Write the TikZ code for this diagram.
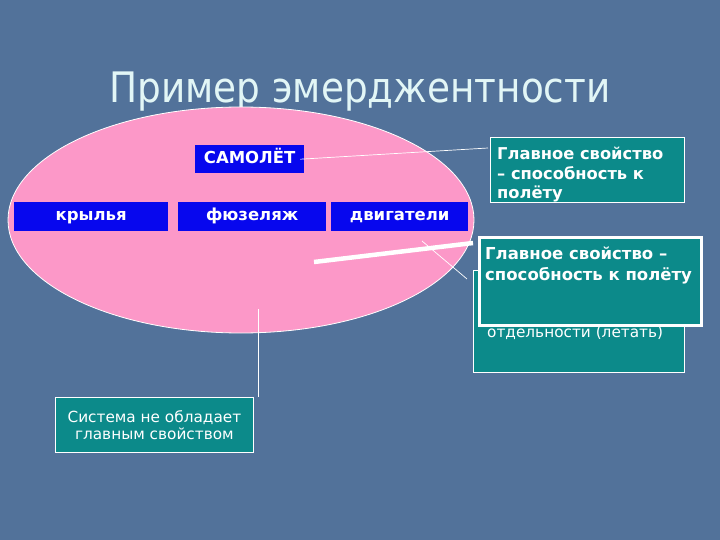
\documentclass[tikz,border=0pt]{standalone}
\usepackage{fontspec}
\setmainfont{DejaVu Sans}
\usetikzlibrary{shapes.geometric}
\definecolor{bg}{HTML}{52729A}
\definecolor{titlecol}{HTML}{E2F6F6}
\definecolor{pinkfill}{HTML}{FC98C8}
\definecolor{blueb}{HTML}{0707EE}
\definecolor{tealb}{HTML}{0C8A8A}
\tikzset{
  bluebox/.style={fill=blueb, text=white, font=\bfseries\fontsize{16.5}{18}\selectfont, inner sep=0pt, anchor=north west, text height=12pt, text depth=3.5pt},
  tealbox/.style={fill=tealb, draw=white, line width=0.8pt, inner sep=0pt, anchor=north west},
  boldtxt/.style={text=white, font=\bfseries\fontsize{16.3}{19.5}\selectfont, inner sep=0pt, anchor=north west, align=left},
  plaintxt/.style={text=white, font=\fontsize{15.3}{17}\selectfont, inner sep=0pt},
  thin/.style={draw=white, line width=0.7pt}
}
\begin{document}
\begin{tikzpicture}[x=1pt,y=-1pt]
\fill[bg] (0,0) rectangle (720,540);
\useasboundingbox (0,0) rectangle (720,540);
% title
\node[text=titlecol, font=\fontsize{42}{44}\selectfont, anchor=base] (title) at (360,103) {\scalebox{0.89}[1]{Пример эмерджентности}};
% ellipse
\node[ellipse, fill=pinkfill, draw=white, line width=0.8pt, minimum width=466pt, minimum height=226pt, inner sep=0pt] (ell) at (241,220) {};
% blue boxes
\node[bluebox, minimum width=109pt, minimum height=28pt] (samolet) at (195,145) {САМОЛЁТ};
\node[bluebox, minimum width=154pt, minimum height=29pt] (kryl) at (14,202) {крылья};
\node[bluebox, minimum width=148pt, minimum height=29pt] (fuz) at (178,202) {фюзеляж};
\node[bluebox, minimum width=137pt, minimum height=29pt] (dvig) at (331,202) {двигатели};
% box 1
\node[tealbox, minimum width=194pt, minimum height=65pt] (box1) at (490,137) {};
\node[boldtxt] (box1txt) at (497,147) {Главное свойство\\– способность к\\полёту};
% box 2 (behind)
\node[tealbox, minimum width=211pt, minimum height=102pt] (box2) at (473,270) {};
\node[plaintxt, anchor=base west] (box2txt) at (487,337) {отдельности (летать)};
% box 3 (front)
\node[tealbox, line width=3pt, minimum width=222pt, minimum height=88pt] (box3) at (478,236) {};
\node[boldtxt, font=\bfseries\fontsize{16.5}{21}\selectfont] (box3txt) at (485,247) {Главное свойство –\\способность к полёту};
% bottom box
\node[tealbox, minimum width=198pt, minimum height=55pt] (box4) at (55,397) {};
\node[plaintxt, align=center] (box4txt) at (box4.center) {Система не обладает\\главным свойством};
% connectors
\coordinate (c1) at (488,148);
\draw[thin] (samolet.east) ++(-4,0) -- (c1);
\coordinate (t1) at (314,262);
\coordinate (t2) at (473,243);
\draw[draw=white, line width=4.5pt] (t1) -- (t2);
\coordinate (d1) at (422,241);
\coordinate (d2) at (467,279);
\draw[thin] (d1) -- (d2);
\coordinate (v1) at (258,309);
\draw[thin] (v1) -- (box4.north east -| v1);
\end{tikzpicture}
\end{document}
